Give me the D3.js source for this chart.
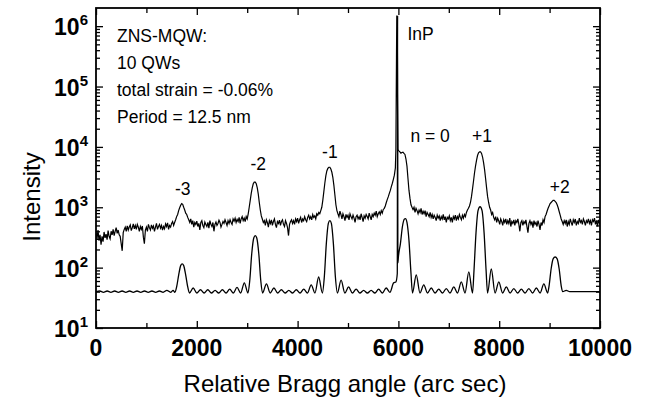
<!DOCTYPE html>
<html>
<head>
<meta charset="utf-8">
<title>ZNS-MQW rocking curve</title>
<script src="https://cdn.jsdelivr.net/npm/d3@7"></script>
<style>
  body { margin: 0; background: #fff; }
  svg text { font-family: "Liberation Sans", Arial, Helvetica, sans-serif; fill: #000; }
  .tick-label { font-size: 23px; font-weight: bold; }
  .title { font-size: 24px; }
  .note { font-size: 17.5px; }
  .axis path { display: none; }
  .axis line { stroke: #000; stroke-width: 1.3; }
</style>
</head>
<body>
<div id="chart"></div>
<script>
// axis ticks
const xMajor = [0, 2000, 4000, 6000, 8000, 10000];
const xMinor = [1000, 3000, 5000, 7000, 9000];
const yDecades = [1, 2, 3, 4, 5, 6];

const measured = [
  [0,380],[20,300],[40,420],[60,280],[80,350],[100,240],[120,330],[140,270],[160,390],[180,310],
  [200,360],[220,290],[240,410],[260,330],[280,300],[300,400],[320,350],[340,430],[360,340],[380,400],
  [400,460],[420,370],[440,420],[460,350],[480,330],[500,250],[520,190],[540,380],[560,430],[580,470],
  [600,400],[620,490],[640,420],[660,470],[680,510],[700,410],[720,460],[740,530],[760,440],[780,500],
  [800,430],[820,520],[840,470],[860,400],[880,480],[900,430],[920,490],[940,320],[960,250],[980,420],
  [1000,470],[1020,400],[1040,520],[1060,460],[1080,420],[1100,510],[1120,450],[1140,490],[1160,400],[1180,470],
  [1200,540],[1220,430],[1240,480],[1260,520],[1280,450],[1300,500],[1320,420],[1340,480],[1360,440],[1380,530],
  [1400,480],[1420,550],[1440,430],[1460,500],[1480,470],[1500,540],[1520,580],[1540,500],[1560,560],
  [1580,620],[1600,700],[1620,760],[1640,880],[1660,980],[1680,1080],[1700,1150],[1720,1120],[1740,1000],
  [1760,900],[1780,800],[1800,760],[1820,680],[1840,620],[1860,560],
  [1880,640],[1900,520],[1920,600],[1940,470],[1960,560],[1980,520],[2000,590],[2020,480],[2040,540],[2060,420],
  [2080,560],[2100,600],[2120,500],[2140,460],[2160,570],[2180,520],[2200,480],[2220,560],[2240,450],[2260,600],
  [2280,520],[2300,480],[2320,560],[2340,400],[2360,520],[2380,570],[2400,500],[2420,540],[2440,610],[2460,560],
  [2480,470],[2500,520],[2520,580],[2540,540],[2560,620],[2580,560],[2600,500],[2620,600],[2640,540],[2660,620],
  [2680,560],[2700,520],[2720,640],[2740,590],[2760,660],[2780,560],[2800,630],[2820,580],[2840,680],[2860,540],
  [2880,640],[2900,700],[2920,600],[2940,660],[2960,580],[2980,700],[3000,640],[3020,780],
  [3040,1000],[3060,1300],[3080,1700],[3100,2100],[3120,2450],[3140,2600],[3160,2600],[3180,2450],[3200,2100],
  [3220,1650],[3240,1200],[3260,900],[3280,720],[3300,640],
  [3320,560],[3340,600],[3360,500],[3380,620],[3400,560],[3420,470],[3440,600],[3460,540],[3480,620],[3500,500],
  [3520,580],[3540,640],[3560,520],[3580,460],[3600,580],[3620,540],[3640,610],[3660,500],[3680,580],[3700,620],
  [3720,520],[3740,480],[3760,600],[3780,540],[3800,460],[3820,340],[3840,520],[3860,580],[3880,620],[3900,540],
  [3920,600],[3940,520],[3960,640],[3980,580],[4000,660],[4020,540],[4040,620],[4060,680],[4080,560],[4100,640],
  [4120,600],[4140,700],[4160,620],[4180,580],[4200,680],[4220,740],[4240,640],[4260,700],[4280,620],[4300,760],
  [4320,680],[4340,720],[4360,640],[4380,780],[4400,740],[4420,820],[4440,780],[4460,880],[4480,1000],
  [4500,1300],[4520,1800],[4540,2500],[4560,3300],[4580,4000],[4600,4400],[4620,4600],[4640,4600],[4660,4300],
  [4680,3800],[4700,3100],[4720,2300],[4740,1600],[4760,1100],[4780,880],[4800,780],
  [4820,700],[4840,860],[4860,760],[4880,640],[4900,780],[4920,700],[4940,600],[4960,760],[4980,680],[5000,740],
  [5020,620],[5040,780],[5060,700],[5080,640],[5100,740],[5120,660],[5140,560],[5160,700],[5180,740],[5200,640],
  [5220,700],[5240,620],[5260,780],[5280,680],[5300,580],[5320,720],[5340,660],[5360,760],[5380,700],[5400,640],
  [5420,800],[5440,700],[5460,620],[5480,760],[5500,700],[5520,800],[5540,740],[5560,860],[5580,700],[5600,780],
  [5620,840],[5640,760],[5660,880],[5680,800],[5700,920],[5720,960],[5740,1050],[5760,1200],[5780,1350],[5800,1500],
  [5820,1700],[5840,1900],[5860,2200],[5880,2500],[5900,2900],[5920,3400],[5940,4500],[5950,9000],
  [5962,300000],[5968,1500000],[5976,200000],[5990,9000],
  [6010,8600],[6030,8300],[6050,7900],[6070,8100],[6090,8200],[6110,7800],[6130,7500],[6150,6300],[6170,4800],
  [6190,3000],[6210,1900],[6230,1400],[6250,1100],[6270,1000],[6290,920],
  [6310,1000],[6330,820],[6350,960],[6370,880],[6390,780],[6410,900],[6430,820],[6450,960],[6470,760],[6490,860],
  [6510,780],[6530,880],[6550,700],[6570,820],[6590,760],[6610,700],[6630,820],[6650,680],[6670,760],[6690,640],
  [6710,740],[6730,680],[6750,600],[6770,740],[6790,660],[6810,720],[6830,600],[6850,700],[6870,640],[6890,760],
  [6910,620],[6930,700],[6950,560],[6970,680],[6990,640],[7010,720],[7030,600],[7050,680],[7070,560],[7090,700],
  [7110,640],[7130,740],[7150,600],[7170,700],[7190,640],[7210,760],[7230,680],[7250,620],[7270,740],[7290,660],
  [7310,760],[7330,700],[7350,820],[7370,900],[7390,960],[7410,1050],
  [7430,1200],[7450,1500],[7470,2000],[7490,2700],[7510,3700],[7530,4800],[7550,6000],[7570,7200],[7590,8000],
  [7610,8300],[7630,8300],[7650,7800],[7670,6800],[7690,5500],[7710,4200],[7730,3000],[7750,2100],[7770,1500],
  [7790,1200],[7810,1000],[7830,900],[7850,760],[7870,820],[7890,680],
  [7910,620],[7930,700],[7950,560],[7970,660],[7990,600],[8010,520],[8030,640],[8050,580],[8070,500],[8090,620],
  [8110,560],[8130,640],[8150,520],[8170,600],[8190,540],[8210,660],[8230,480],[8250,580],[8270,540],[8290,620],
  [8310,500],[8330,600],[8350,560],[8370,640],[8390,520],[8410,400],[8430,560],[8450,600],[8470,500],[8490,580],
  [8510,540],[8530,620],[8550,480],[8570,380],[8590,540],[8610,600],[8630,520],[8650,580],[8670,460],[8690,600],
  [8710,520],[8730,560],[8750,480],[8770,600],[8790,520],[8810,420],[8830,560],[8850,500],[8870,620],[8890,560],
  [8910,700],[8930,760],[8950,860],[8970,960],[8990,1050],[9010,1150],[9030,1200],[9050,1250],[9070,1300],
  [9090,1300],[9110,1250],[9130,1200],[9150,1100],[9170,980],[9190,850],[9210,740],[9230,640],[9250,580],[9270,520],
  [9290,600],[9310,540],[9330,620],[9350,480],[9370,580],[9390,520],[9410,640],[9430,560],[9450,500],[9470,620],
  [9490,560],[9510,640],[9530,500],[9550,580],[9570,540],[9590,660],[9610,560],[9630,600],[9650,520],[9670,640],
  [9690,580],[9710,500],[9730,600],[9750,560],[9770,640],[9790,540],[9810,600],[9830,500],[9850,620],[9870,580],
  [9890,660],[9910,520],[9930,600],[9950,480],[9970,620],[9990,540],[10000,580]
];

// simulated curve (arc sec, counts)
const simulated = [
  [0,40],[74,41],[148,39],[222,41],[296,39],[370,41],[444,39],[518,41],[592,39],[666,41],
  [740,39],[814,41],[888,39],[962,41],[1036,39],[1110,41],[1184,39],[1258,41],[1332,39],[1406,42],
  [1480,39],[1530,42],[1565,39],[1600,48],[1640,75],[1680,108],[1710,115],[1740,108],[1780,75],[1820,48],
  [1855,38],[1928,46],[2000,38],[2073,43],[2145,38],[2218,43],[2290,38],[2363,42],[2435,38],[2508,43],
  [2580,38],[2653,44],[2725,38],[2798,47],[2870,38],[2943,56],[3015,38],
  [3050,60],[3090,170],[3130,310],[3160,340],[3190,310],[3230,170],[3270,60],[3305,38],
  [3382,54],[3456,38],[3530,46],[3604,38],[3678,43],[3752,38],[3826,42],[3900,38],[3974,43],[4048,38],
  [4122,44],[4196,38],[4270,52],[4344,38],[4418,70],[4492,38],
  [4530,70],[4570,250],[4610,540],[4640,600],[4670,540],[4710,250],[4750,70],[4789,38],
  [4863,62],[4938,38],[5012,48],[5087,38],[5161,44],[5236,38],[5310,42],[5385,38],[5459,42],[5534,38],
  [5608,44],[5683,38],[5757,46],[5832,39],[5906,56],[5950,58],[5978,80],[5984,1500000],[5990,120],
  [6000,150],[6040,250],[6080,480],[6120,640],[6140,650],[6170,560],[6210,280],[6250,80],[6279,38],
  [6354,76],[6428,38],[6503,52],[6577,38],[6652,46],[6726,38],[6801,44],[6875,38],[6950,45],[7024,38],
  [7099,48],[7173,38],[7248,58],[7322,38],[7397,85],[7471,38],
  [7500,90],[7540,380],[7580,880],[7620,1020],[7660,880],[7700,380],[7740,90],[7769,38],
  [7843,95],[7918,38],[7992,58],[8067,38],[8141,48],[8216,38],[8290,45],[8365,38],[8439,44],[8514,38],
  [8588,45],[8663,38],[8737,46],[8812,38],[8886,54],[8961,38],
  [8990,50],[9030,95],[9070,140],[9110,150],[9150,140],[9190,95],[9230,50],[9260,40],
  [9330,42],[9400,40],[9500,40],[9600,40],[9700,40],[9800,40],[9900,40],[10000,40]
];

// labels on the figure
const infoLines = ["ZNS-MQW:", "10 QWs", "total strain = -0.06%", "Period = 12.5 nm"];
const peakLabels = [
  {text: "-3", x: 1720, y: 1600},
  {text: "-2", x: 3220, y: 4100},
  {text: "-1", x: 4640, y: 6500},
  {text: "n = 0", x: 6630, y: 12000},
  {text: "+1", x: 7660, y: 12000},
  {text: "+2", x: 9200, y: 1750}
];

const W = 645, H = 403;
const margin = {top: 8, right: 45, bottom: 75, left: 96};
const innerW = 600 - margin.left, innerH = 328 - margin.top;

const svg = d3.select("#chart").append("svg")
  .attr("width", W).attr("height", H);
const g = svg.append("g").attr("transform", `translate(${margin.left},${margin.top})`);

const x = d3.scaleLinear().domain([0, 10000]).range([0, innerW]);
const y = d3.scaleLog().domain([10, 2e6]).range([innerH, 0]);

const yMajor = yDecades.map(k => Math.pow(10, k));
const yMinor = [];
yDecades.forEach(k => { for (let m = 2; m <= 9; m++) { const v = m * Math.pow(10, k); if (v < 2e6) yMinor.push(v); } });

// ticks, all pointing inward
g.append("g").attr("class", "axis").attr("transform", `translate(0,${innerH})`)
  .call(d3.axisBottom(x).tickValues(xMajor).tickSize(-7).tickFormat(""));
g.append("g").attr("class", "axis").attr("transform", `translate(0,${innerH})`)
  .call(d3.axisBottom(x).tickValues(xMinor).tickSize(-5).tickFormat(""));
g.append("g").attr("class", "axis")
  .call(d3.axisTop(x).tickValues(xMajor).tickSize(-7).tickFormat(""));
g.append("g").attr("class", "axis")
  .call(d3.axisTop(x).tickValues(xMinor).tickSize(-5).tickFormat(""));
g.append("g").attr("class", "axis")
  .call(d3.axisLeft(y).tickValues(yMajor).tickSize(-7).tickFormat(""));
g.append("g").attr("class", "axis")
  .call(d3.axisLeft(y).tickValues(yMinor).tickSize(-4).tickFormat(""));
g.append("g").attr("class", "axis").attr("transform", `translate(${innerW},0)`)
  .call(d3.axisRight(y).tickValues(yMajor).tickSize(-7).tickFormat(""));
g.append("g").attr("class", "axis").attr("transform", `translate(${innerW},0)`)
  .call(d3.axisRight(y).tickValues(yMinor).tickSize(-4).tickFormat(""));

// tick labels
g.selectAll(".xlab").data(xMajor).enter().append("text")
  .attr("class", "tick-label")
  .attr("x", d => x(d)).attr("y", innerH + 28)
  .attr("text-anchor", "middle")
  .text(d => d);

const ylab = g.selectAll(".ylab").data(yDecades).enter().append("text")
  .attr("class", "tick-label")
  .attr("x", -8).attr("y", d => y(Math.pow(10, d)) + 9)
  .attr("text-anchor", "end");
ylab.append("tspan").text("10");
ylab.append("tspan").attr("dy", -10).style("font-size", "15px").text(d => d);

// curves
svg.append("clipPath").attr("id", "clip")
  .append("rect").attr("width", innerW).attr("height", innerH);
const plot = g.append("g").attr("clip-path", "url(#clip)");

plot.append("path").datum(simulated)
  .attr("fill", "none").attr("stroke", "#000").attr("stroke-width", 1.3)
  .attr("d", d3.line().x(d => x(d[0])).y(d => y(d[1])).curve(d3.curveMonotoneX));
plot.append("path").datum(measured)
  .attr("fill", "none").attr("stroke", "#000").attr("stroke-width", 1.2)
  .attr("d", d3.line().x(d => x(d[0])).y(d => y(d[1])));

// frame
g.append("rect").attr("width", innerW).attr("height", innerH)
  .attr("fill", "none").attr("stroke", "#000").attr("stroke-width", 1.8);

// annotations
g.selectAll(".info").data(infoLines).enter().append("text")
  .attr("class", "note")
  .attr("x", 21).attr("y", (d, i) => 34 + i * 27)
  .text(d => d);
g.append("text").attr("class", "note")
  .attr("x", x(6180)).attr("y", 32).text("InP");
g.selectAll(".peak").data(peakLabels).enter().append("text")
  .attr("class", "note")
  .attr("x", d => x(d.x)).attr("y", d => y(d.y))
  .attr("text-anchor", "middle")
  .text(d => d.text);

// axis titles
svg.append("text").attr("class", "title")
  .attr("x", 345).attr("y", 392).attr("text-anchor", "middle")
  .text("Relative Bragg angle (arc sec)");
svg.append("text").attr("class", "title")
  .attr("transform", "translate(40,197) rotate(-90)")
  .attr("text-anchor", "middle")
  .text("Intensity");
</script>
</body>
</html>
